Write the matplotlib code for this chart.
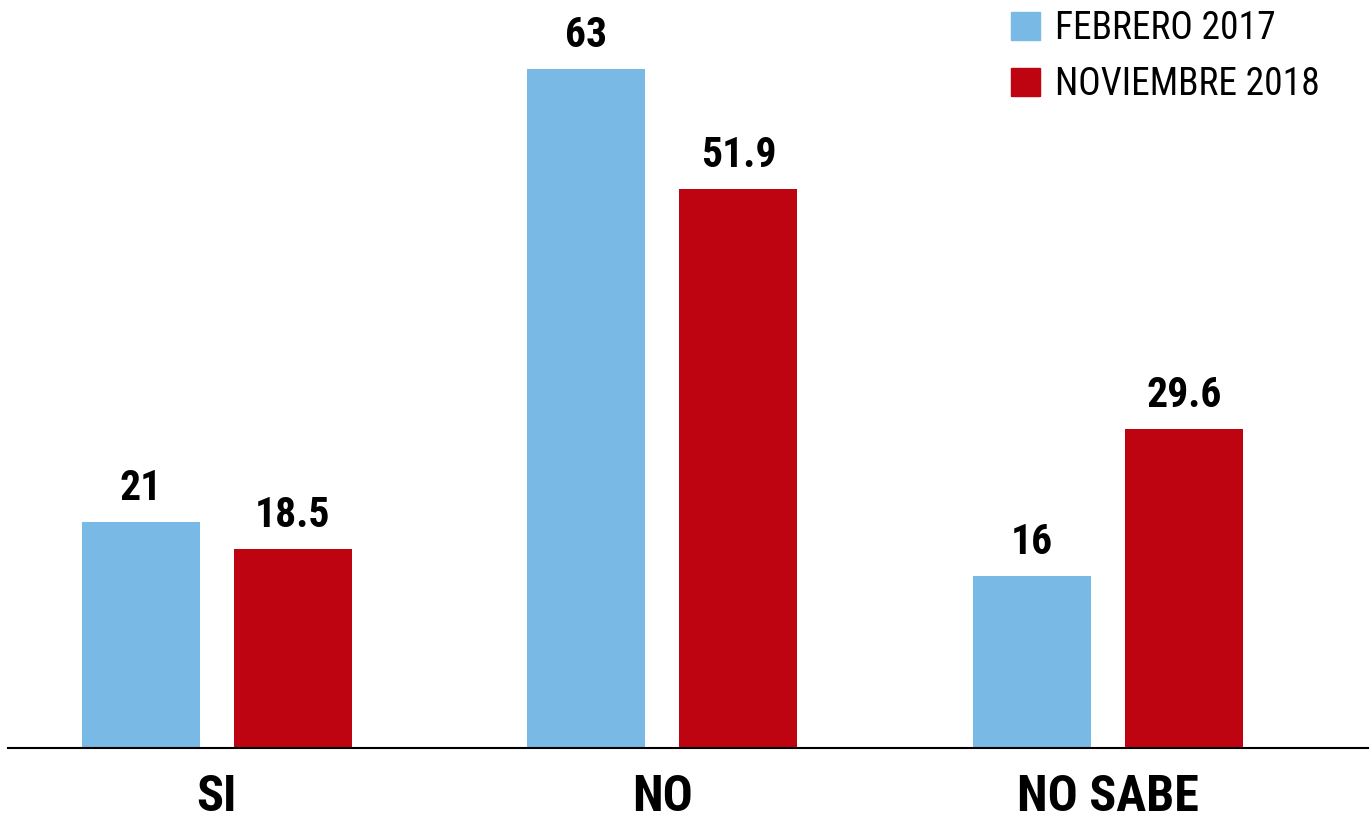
import matplotlib
matplotlib.use("Agg")
import matplotlib.pyplot as plt
from matplotlib import font_manager
from matplotlib.patches import Patch

categories = ["SI", "NO", "NO SABE"]
series_names = ["FEBRERO 2017", "NOVIEMBRE 2018"]
feb_2017 = [21, 63, 16]
nov_2018 = [18.5, 51.9, 29.6]
value_labels_feb = ["21", "63", "16"]
value_labels_nov = ["18.5", "51.9", "29.6"]

blue = "#79B9E6"
red = "#BE0411"

# pick a narrow font if one is installed
names = set(f.name for f in font_manager.fontManager.ttflist)
font = "DejaVu Sans"
for cand in ["Roboto Condensed", "Liberation Sans Narrow", "DejaVu Sans Condensed"]:
    if cand in names:
        font = cand
        break

plt.rcParams['font.family'] = [font, "DejaVu Sans"]

fig = plt.figure(figsize=(13.71, 8.27), dpi=100)
ax = fig.add_axes([8 / 1371, 79 / 827, 1360 / 1371, 748 / 827])

x = range(len(categories))
w = 0.265
off = 0.1706
b1 = ax.bar([i - off for i in x], feb_2017, w, color=blue)
b2 = ax.bar([i + off for i in x], nov_2018, w, color=red)

for bars, labs in [(b1, value_labels_feb), (b2, value_labels_nov)]:
    for bar, lab in zip(bars, labs):
        ax.annotate(lab, (bar.get_x() + bar.get_width() / 2, bar.get_height()), xytext=(0, 9),
                    textcoords="offset points", ha="center", va="bottom", fontsize=30,
                    fontweight="bold")

ax.set_xlim(-0.469, 2.584)
ax.set_ylim(0, 69.4)
ax.set_xticks(list(x))
ax.set_xticklabels(categories, fontsize=36, fontweight="bold")
ax.tick_params(axis="x", length=0, pad=19)
ax.set_yticks([])
for s in ["top", "right", "left"]:
    ax.spines[s].set_visible(False)
ax.spines["bottom"].set_linewidth(1.5)

handles = [Patch(color=blue), Patch(color=red)]
ax.legend(handles, series_names, loc="upper right", bbox_to_anchor=(1320 / 1371, 1 - 10 / 827),
          bbox_transform=fig.transFigure, frameon=False, fontsize=27,
          handlelength=0.78, handleheight=0.78, handletextpad=0.4, labelspacing=0.5,
          borderaxespad=0, borderpad=0)

plt.savefig("out.png", dpi=100)
